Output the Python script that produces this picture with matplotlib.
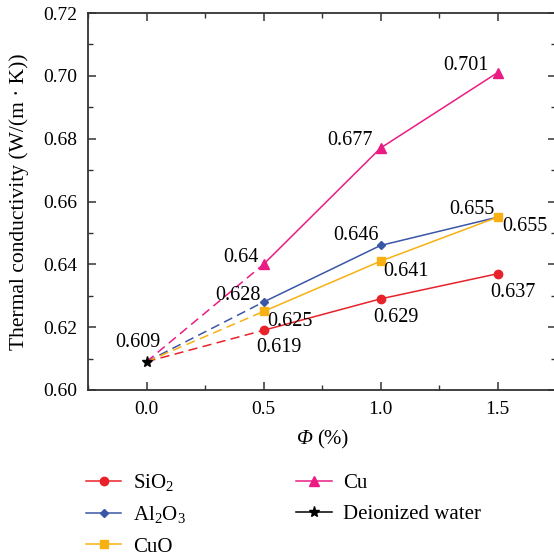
import numpy as np
import matplotlib
matplotlib.use("Agg")
import matplotlib.pyplot as plt
from matplotlib.ticker import MultipleLocator, FormatStrFormatter

plt.rcParams['font.family'] = ['Liberation Serif', 'DejaVu Serif']
plt.rcParams['mathtext.fontset'] = 'custom'
plt.rcParams['mathtext.rm'] = 'Liberation Serif'
plt.rcParams['mathtext.it'] = 'Liberation Serif:italic'

# data
phi = [0.5, 1.0, 1.5]
water_phi = 0.0
water_k = 0.609
sio2 = [0.619, 0.629, 0.637]
al2o3 = [0.628, 0.646, 0.655]
cuo = [0.625, 0.641, 0.655]
cu = [0.640, 0.677, 0.701]

series = [
    ("SiO$_2$", sio2, '#e8222a', 'o', 6),
    ("Al$_2$O$_3$", al2o3, '#3a56a6', 'D', 4.5),
    ("CuO", cuo, '#f8b012', 's', 5.5),
    ("Cu", cu, '#ea1c84', '^', 6.5),
]

# label centre offsets from the point, in pixels (x right, y up)
offsets = {
    "SiO$_2$": [(15, -15), (15, -17), (15, -17)],
    "Al$_2$O$_3$": [(-26, 9), (-25, 12), (-26, 10)],
    "CuO": [(26, -8), (26, -8), (27, -7)],
    "Cu": [(-23, 9), (-31, 10), (-32, 9)],
}
PX = 72 / 100

fig = plt.figure(figsize=(5.54, 5.60), dpi=100)
ax = fig.add_axes([88 / 554, 1 - 390 / 560, 468 / 554, 377 / 560])

handles = []
for name, vals, col, mk, ms in series:
    ax.plot([water_phi, phi[0]], [water_k, vals[0]], color=col, lw=1.1,
            dashes=(6, 3.5), zorder=2)
    h, = ax.plot(phi, vals, color=col, lw=1.1, marker=mk, ms=ms,
                 mec=col, mfc=col, label=name, zorder=3)
    handles.append(h)
    for x, v, (dx, dy) in zip(phi, vals, offsets[name]):
        ax.annotate(f"{v:g}", (x, v), xytext=(dx * PX, dy * PX - 1.5),
                    textcoords='offset points', ha='center', va='center',
                    fontsize=14.5)

hw, = ax.plot([water_phi], [water_k], color='black', marker='*', ms=8, lw=1.1,
              ls='-', label='Deionized water', zorder=4)
handles.append(hw)
ax.annotate(f"{water_k:g}", (water_phi, water_k), xytext=(-9 * PX, 21 * PX - 1.5),
            textcoords='offset points', ha='center', va='center', fontsize=14.5)

ax.set_xlim(-0.25, 1.75)
ax.set_ylim(0.60, 0.72)
ax.set_xticks([0.0, 0.5, 1.0, 1.5])
ax.set_xticklabels(['0.0', '0.5', '1.0', '1.5'])
ax.xaxis.set_minor_locator(MultipleLocator(0.25))
ax.yaxis.set_major_locator(MultipleLocator(0.02))
ax.yaxis.set_minor_locator(MultipleLocator(0.01))
ax.yaxis.set_major_formatter(FormatStrFormatter('%.2f'))
ax.tick_params(which='both', direction='in', top=True, right=True,
               labelsize=14, color='#333333')
ax.tick_params(which='major', length=6, width=1.1, pad=8)
ax.tick_params(which='minor', length=3.5, width=1.0)
for s in ax.spines.values():
    s.set_color('#333333')
    s.set_linewidth(1.3)

# x label: italic Phi followed by upright "(%)"
fig.text(313 / 554, 1 - 440 / 560, 'Φ', fontsize=15, fontstyle='italic',
         ha='right', va='center')
fig.text(317 / 554, 1 - 440 / 560, '(%)', fontsize=15, ha='left', va='center')
ax.set_ylabel('Thermal conductivity (W/(m · K))', fontsize=15.5, labelpad=10)

fig.legend(handles=handles, loc='upper left', bbox_to_anchor=(86 / 554, 1 - 472 / 560),
           ncol=2, frameon=False, fontsize=15, handlelength=1.7, handletextpad=0.55,
           columnspacing=5.3, labelspacing=0.55, borderpad=0, borderaxespad=0)

fig.savefig('out.png', dpi=100)
